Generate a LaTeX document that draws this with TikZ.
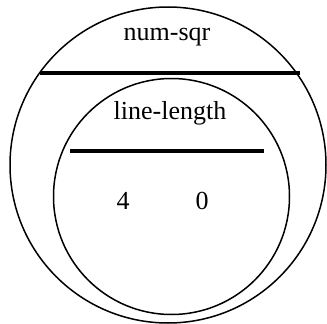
\documentclass[tikz,border=0pt]{standalone}
\usepackage{fontspec}
\setmainfont{Liberation Serif}
\begin{document}
\begin{tikzpicture}[x=1pt,y=-1pt,
  ring/.style={draw,circle,line width=1.5pt,inner sep=0pt},
  bar/.style={line width=4.5pt},
  lbl/.style={font=\fontsize{26}{30}\selectfont,inner sep=0pt}]
\useasboundingbox (0,0) rectangle (327,324);
\node[ring,minimum size=316pt] (outer) at (168,165) {};
\node[ring,minimum size=236pt] (inner) at (171.5,196.5) {};
\coordinate (o1) at (40,73);
\coordinate (o2) at (300,73);
\draw[bar] (o1) -- (o2);
\coordinate (i1) at (70,151);
\coordinate (i2) at (264,151);
\draw[bar] (i1) -- (i2);
\node[lbl] (numsqr) at (167,37) {num-sqr};
\node[lbl] (linelength) at (170,113) {line-length};
\node[lbl] (four) at (123,201) {4};
\node[lbl] (zero) at (202,201) {0};
\end{tikzpicture}
\end{document}
